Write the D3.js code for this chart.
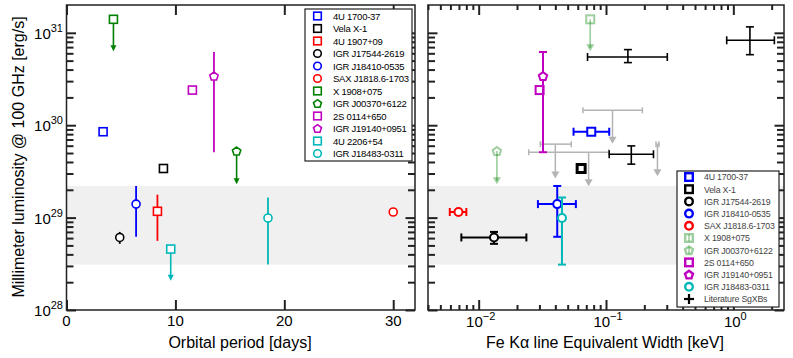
<!DOCTYPE html>
<html>
<head>
<meta charset="utf-8">
<script src="https://cdn.jsdelivr.net/npm/d3@7"></script>
<style>
body{margin:0;background:#fff;}
svg{display:block;font-family:"Liberation Sans",Arial,sans-serif;}
</style>
</head>
<body>
<div id="chart"></div>
<script>
// ---- data ----
var sources = ["4U 1700-37", "Vela X-1", "4U 1907+09", "IGR J17544-2619", "IGR J18410-0535",
    "SAX J1818.6-1703", "X 1908+075", "IGR J00370+6122", "2S 0114+650", "IGR J19140+0951",
    "4U 2206+54", "IGR J18483-0311"];
var orbitalPeriod = [3.36, 8.9, 8.35, 4.89, 6.39, 30.0, 4.31, 15.62, 11.56, 13.54, 9.57, 18.5];
var lumMm   = [8.5e29, 3.4e29, 1.17e29, 6.1e28, 1.4e29, 1.15e29, 1.4e31, 5.25e29, 2.4e30, 3.4e30, 4.57e28, 9.9e28];
var lumLo   = [null, null, 5.6e28, 5.2e28, 6.2e28, null, null, null, null, 5.1e29, null, 3.1e28];
var lumHi   = [null, null, 1.77e29, 7.0e28, 2.2e29, null, null, null, null, 6.2e30, null, 1.65e29];
var upperLimit = [false, false, false, false, false, false, true, true, false, false, true, false];
var lumLimitTo = [null, null, null, null, null, null, 6.3e30, 2.3e29, null, null, 2.07e28, null];
var ewKeV   = [0.0766, 0.0638, null, 0.0132, 0.0414, 0.00694, 0.0752, 0.0139, 0.0301, 0.032, null, 0.0451];
var ewLo    = [0.0556, null, null, 0.00731, 0.0292, 0.00593, null, null, null, null, null, null];
var ewHi    = [0.106, null, null, 0.0237, 0.058, 0.0080, null, null, null, null, null, null];

// literature SgXBs: detections
var litEW    = [1.35, 0.1486, 0.158];
var litEWLo  = [0.887, 0.0716, 0.106];
var litEWHi  = [2.1, 0.303, 0.236];
var litLum   = [8.3e30, 5.47e30, 4.85e29];
var litLumLo = [5.8e30, 4.76e30, 3.79e29];
var litLumHi = [1.16e31, 6.58e30, 5.97e29];
// literature SgXBs: upper limits
var limEW    = [0.1125, 0.040, 0.073, 0.2535];
var limEWLo  = [0.0659, 0.0305, 0.0247, 0.247];
var limEWHi  = [0.193, 0.0533, 0.105, 0.261];
var limLum   = [1.45e30, 6.24e29, 5.1e29, 6.24e29];
var limLumTo = [6.3e29, 2.65e29, 2.19e29, 2.8e29];

var bandLum = [3.1e28, 2.2e29];
var periodTicks = [0, 10, 20, 30];
var lumDecades = [28, 29, 30, 31];
var ewDecades = [-2, -1, 0];

// ---- styles ----
var colors = ["#0000ff", "#000000", "#ff0000", "#000000", "#0000ff", "#ff0000",
    "#008000", "#008000", "#c000c0", "#c000c0", "#00b8b8", "#00b8b8"];
var shapes = ["square", "square", "square", "circle", "circle", "circle",
    "square", "pentagon", "square", "pentagon", "square", "circle"];
var frameColor = "#222";
var limitGray = "#b4b4b4";

var W = 793, H = 358;
var svg = d3.select("#chart").append("svg").attr("width", W).attr("height", H);

var y = d3.scaleLog().domain([1e28, 2e31]).range([310, 5]);
var xP = d3.scaleLinear().domain([0, 32]).range([66.5, 415]);
var xE = d3.scaleLog().domain([0.004, 2.5]).range([428, 784]);

function logMinor(lo, hi) {
    var out = [];
    for (var e = lo; e <= hi; e++) {
        for (var k = 2; k <= 9; k++) out.push(k * Math.pow(10, e));
    }
    return out;
}

function drawMarker(g, shape, cx, cy, color, sw, r, opacity) {
    var m;
    if (shape === "square") {
        m = g.append("rect").attr("x", cx - r).attr("y", cy - r)
            .attr("width", 2 * r).attr("height", 2 * r);
    } else if (shape === "circle") {
        m = g.append("circle").attr("cx", cx).attr("cy", cy).attr("r", r);
    } else {
        var pts = d3.range(5).map(function(i) {
            var a = -Math.PI / 2 + i * 2 * Math.PI / 5;
            return [cx + r * 1.1 * Math.cos(a), cy + r * 1.1 * Math.sin(a) + 0.4];
        });
        m = g.append("path").attr("d", "M" + pts.join("L") + "Z");
    }
    m.attr("fill", opacity < 1 ? "none" : "#fff").attr("stroke", color)
        .attr("stroke-width", sw).attr("opacity", opacity);
}

function arrowDown(g, cx, y0, y1, color, w, h, sw, opacity) {
    g.append("line").attr("x1", cx).attr("x2", cx).attr("y1", y0).attr("y2", y1 - h * 0.5)
        .attr("stroke", color).attr("stroke-width", sw).attr("opacity", opacity);
    g.append("path").attr("d", "M" + (cx - w / 2) + "," + (y1 - h) + "L" + (cx + w / 2) + "," + (y1 - h) + "L" + cx + "," + y1 + "Z")
        .attr("fill", color).attr("opacity", opacity);
}

function vbar(g, cx, ya, yb, color, sw, cap, opacity) {
    g.append("line").attr("x1", cx).attr("x2", cx).attr("y1", ya).attr("y2", yb)
        .attr("stroke", color).attr("stroke-width", sw).attr("opacity", opacity || 1);
    if (cap) [ya, yb].forEach(function(v) {
        g.append("line").attr("x1", cx - cap).attr("x2", cx + cap).attr("y1", v).attr("y2", v)
            .attr("stroke", color).attr("stroke-width", sw).attr("opacity", opacity || 1);
    });
}

function hbar(g, cy, xa, xb, color, sw, cap, opacity) {
    g.append("line").attr("x1", xa).attr("x2", xb).attr("y1", cy).attr("y2", cy)
        .attr("stroke", color).attr("stroke-width", sw).attr("opacity", opacity || 1);
    if (cap) [xa, xb].forEach(function(v) {
        g.append("line").attr("x1", v).attr("x2", v).attr("y1", cy - cap).attr("y2", cy + cap)
            .attr("stroke", color).attr("stroke-width", sw).attr("opacity", opacity || 1);
    });
}

// y ticks (both sides, inward) for a panel spanning x0..x1
function yTicks(g, x0, x1) {
    var major = lumDecades.map(function(e) { return Math.pow(10, e); });
    var minor = logMinor(28, 30);
    [[x0, d3.axisLeft], [x1, d3.axisRight]].forEach(function(s) {
        [[major, 9.5], [minor, 7]].forEach(function(t) {
            g.append("g").attr("transform", "translate(" + s[0] + ",0)")
                .call(s[1](y).tickValues(t[0]).tickSize(-t[1]).tickFormat(""))
                .call(function(a) {
                    a.select(".domain").remove();
                    a.selectAll("line").attr("stroke", frameColor).attr("stroke-width", 2);
                });
        });
    });
}

function frame(g, x0, x1) {
    g.append("rect").attr("x", x0).attr("y", 5).attr("width", x1 - x0).attr("height", 305)
        .attr("fill", "none").attr("stroke", frameColor).attr("stroke-width", 1.5);
}

function band(g, x0, x1) {
    g.append("rect").attr("x", x0).attr("width", x1 - x0)
        .attr("y", y(bandLum[1])).attr("height", y(bandLum[0]) - y(bandLum[1]))
        .attr("fill", "#f0f0f0");
}

function powLabel(g, x, yy, exp, anchor) {
    var t = g.append("text").attr("x", x).attr("y", yy).attr("text-anchor", anchor)
        .attr("font-size", 15).attr("fill", "#000");
    t.append("tspan").text("10");
    t.append("tspan").attr("dy", -7).attr("font-size", 11).text(String(exp).replace("-", "\u2212"));
}

// ===== left panel =====
var L = svg.append("g");
band(L, xP.range()[0], xP.range()[1]);
yTicks(L, xP.range()[0], xP.range()[1]);
[[310, d3.axisBottom], [5, d3.axisTop]].forEach(function(s) {
    L.append("g").attr("transform", "translate(0," + s[0] + ")")
        .call(s[1](xP).tickValues(periodTicks).tickSize(-10).tickFormat(""))
        .call(function(a) {
            a.select(".domain").remove();
            a.selectAll("line").attr("stroke", frameColor).attr("stroke-width", 2);
        });
});
frame(L, xP.range()[0], xP.range()[1]);

lumDecades.forEach(function(e) {
    powLabel(L, 63, y(Math.pow(10, e)) + 6, e, "end");
});
periodTicks.forEach(function(v) {
    L.append("text").attr("x", xP(v)).attr("y", 326).attr("text-anchor", "middle")
        .attr("font-size", 15).text(v);
});
L.append("text").attr("x", 240).attr("y", 348).attr("text-anchor", "middle")
    .attr("font-size", 16).text("Orbital period [days]");
L.append("text").attr("transform", "translate(24,157) rotate(-90)").attr("text-anchor", "middle")
    .attr("font-size", 16).text("Millimeter luminosity @ 100 GHz [erg/s]");

sources.forEach(function(name, i) {
    var cx = xP(orbitalPeriod[i]), cy = y(lumMm[i]);
    if (lumLo[i] != null) vbar(L, cx, y(lumHi[i]), y(lumLo[i]), colors[i], 1.8, 0);
    if (upperLimit[i]) arrowDown(L, cx, cy, y(lumLimitTo[i]), colors[i], 6, 6, 1.6, 1);
    drawMarker(L, shapes[i], cx, cy, colors[i], 1.6, 4, 1);
});

// left legend
var lg = L.append("g");
lg.append("rect").attr("x", 305).attr("y", 9).attr("width", 107).attr("height", 152)
    .attr("fill", "#fff").attr("stroke", frameColor).attr("stroke-width", 1.2);
sources.forEach(function(name, i) {
    var ly = 16 + i * 12.5;
    drawMarker(lg, shapes[i], 317.5, ly, colors[i], 1.6, 3.8, 1);
    lg.append("text").attr("x", 333).attr("y", ly + 3.5).attr("font-size", 9.5)
        .attr("letter-spacing", -0.25).text(name);
});

// ===== right panel =====
var R = svg.append("g");
band(R, xE.range()[0], xE.range()[1]);
yTicks(R, xE.range()[0], xE.range()[1]);
var ewMajor = ewDecades.map(function(e) { return Math.pow(10, e); });
var ewMinor = logMinor(-3, 0).filter(function(v) { return v >= 0.004 && v <= 2.5; });
[[310, d3.axisBottom], [5, d3.axisTop]].forEach(function(s) {
    [[ewMajor, 10], [ewMinor, 5]].forEach(function(t) {
        R.append("g").attr("transform", "translate(0," + s[0] + ")")
            .call(s[1](xE).tickValues(t[0]).tickSize(-t[1]).tickFormat(""))
            .call(function(a) {
                a.select(".domain").remove();
                a.selectAll("line").attr("stroke", frameColor).attr("stroke-width", 2);
            });
    });
});
frame(R, xE.range()[0], xE.range()[1]);
ewDecades.forEach(function(e) {
    powLabel(R, xE(Math.pow(10, e)) + 2, 327, e, "middle");
});
R.append("text").attr("x", 605).attr("y", 348).attr("text-anchor", "middle")
    .attr("font-size", 16).text("Fe K\u03b1 line Equivalent Width [keV]");

// literature upper limits (gray)
limEW.forEach(function(v, i) {
    var cx = xE(v), cy = y(limLum[i]);
    hbar(R, cy, xE(limEWLo[i]), xE(limEWHi[i]), limitGray, 1.5, 3);
    arrowDown(R, cx, cy, y(limLumTo[i]), limitGray, 8, 7, 1.5, 1);
});
// literature detections (black crosses)
litEW.forEach(function(v, i) {
    var cx = xE(v), cy = y(litLum[i]);
    hbar(R, cy, xE(litEWLo[i]), xE(litEWHi[i]), "#000", 1.6, 4);
    vbar(R, cx, y(litLumHi[i]), y(litLumLo[i]), "#000", 1.6, 4);
});

var rightIdx = d3.range(sources.length).filter(function(i) { return ewKeV[i] != null; });
rightIdx.forEach(function(i) {
    var cx = xE(ewKeV[i]), cy = y(lumMm[i]);
    var op = upperLimit[i] ? 0.38 : 1;
    if (ewLo[i] != null) hbar(R, cy, xE(ewLo[i]), xE(ewHi[i]), colors[i], 2, 4);
    if (lumLo[i] != null) vbar(R, cx, y(lumHi[i]), y(lumLo[i]), colors[i], 2, 4);
    if (upperLimit[i]) arrowDown(R, cx, cy, y(lumLimitTo[i]), colors[i], 8, 7, 1.6, op);
    drawMarker(R, shapes[i], cx, cy, colors[i], i === 1 ? 3 : 2, 4, op);
});

// right legend
var rg = R.append("g");
rg.append("rect").attr("x", 677).attr("y", 171).attr("width", 102).attr("height", 136)
    .attr("fill", "#fff").attr("stroke", frameColor).attr("stroke-width", 1.2);
rightIdx.forEach(function(i, k) {
    var ly = 177 + k * 12.2;
    var op = upperLimit[i] ? 0.38 : 1;
    if (upperLimit[i]) vbar(rg, 689, ly - 3.5, ly + 3.5, colors[i], 1.5, 0, op);
    drawMarker(rg, shapes[i], 689, ly, colors[i], 2.4, 3.8, op);
    rg.append("text").attr("x", 704).attr("y", ly + 3.3).attr("font-size", 8.8)
        .attr("letter-spacing", -0.2).attr("fill", "#444").text(sources[i]);
});
var litY = 177 + rightIdx.length * 12.2;
hbar(rg, litY, 684, 694, "#000", 2.2, 0);
vbar(rg, 689, litY - 5, litY + 5, "#000", 2.2, 0);
rg.append("text").attr("x", 704).attr("y", litY + 3.3).attr("font-size", 8.8)
    .attr("letter-spacing", -0.2).attr("fill", "#444").text("Literature SgXBs");
</script>
</body>
</html>
